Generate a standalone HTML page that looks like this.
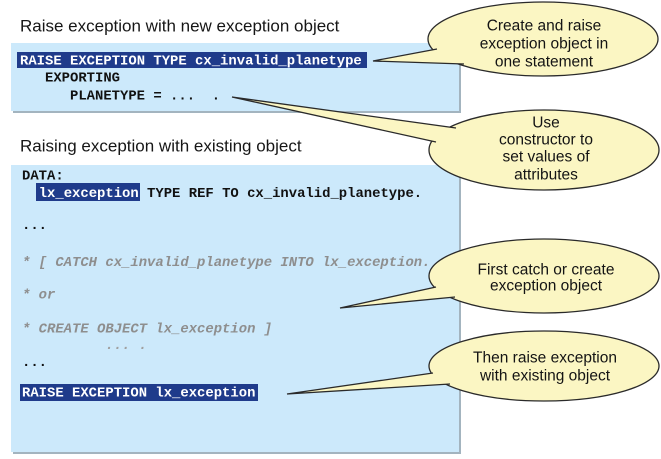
<!DOCTYPE html>
<html>
<head>
<meta charset="utf-8">
<style>
  html, body { margin: 0; padding: 0; background: #ffffff; }
  svg { display: block; }
  .title { font-family: "Liberation Sans", Arial, sans-serif; font-size: 17px; fill: #161616; }
  .code { font-family: "Liberation Mono", "Courier New", monospace; font-size: 13.9px; font-weight: bold; fill: #111111; white-space: pre; }
  .hl { fill: #ffffff; }
  .cmt { font-family: "Liberation Mono", "Courier New", monospace; font-size: 13.9px; font-weight: bold; font-style: italic; fill: #8e8e8e; white-space: pre; }
  .call { font-family: "Liberation Sans", Arial, sans-serif; font-size: 15.5px; fill: #141414; text-anchor: middle; }
</style>
</head>
<body>
<svg width="661" height="459" viewBox="0 0 661 459" xmlns="http://www.w3.org/2000/svg">
  <rect x="0" y="0" width="661" height="459" fill="#ffffff"/>

  <!-- Titles -->
  <text class="title" x="20" y="31.5">Raise exception with new exception object</text>
  <text class="title" x="20" y="151.5">Raising exception with existing object</text>

  <!-- Box 1 -->
  <rect x="13" y="45" width="448" height="68" fill="#a3b4bf"/>
  <rect x="11" y="43" width="448" height="68" fill="#cce9fb"/>
  <rect x="17" y="52" width="350" height="16" fill="#1f3b8b"/>
  <text class="code hl" x="20" y="64.5">RAISE EXCEPTION TYPE cx_invalid_planetype</text>
  <text class="code" x="45" y="81.5">EXPORTING</text>
  <text class="code" x="70" y="99.5">PLANETYPE = ...  .</text>

  <!-- Box 2 -->
  <rect x="13" y="167" width="448" height="287" fill="#a3b4bf"/>
  <rect x="11" y="165" width="448" height="287" fill="#cce9fb"/>
  <text class="code" x="22" y="179.5">DATA:</text>
  <rect x="36" y="183" width="104" height="18" fill="#1f3b8b"/>
  <text class="code" x="38.7" y="197"><tspan class="hl">lx_exception</tspan> TYPE REF TO cx_invalid_planetype.</text>
  <text class="code" x="22" y="229">...</text>
  <text class="cmt" x="22" y="266">* [ CATCH cx_invalid_planetype INTO lx_exception.</text>
  <text class="cmt" x="22" y="298.5">* or</text>
  <text class="cmt" x="22" y="332.5">* CREATE OBJECT lx_exception ]</text>
  <text class="cmt" x="22" y="349" style="fill:#a0a0a0">          ... .</text>
  <text class="code" x="22" y="366">...</text>
  <rect x="20" y="384" width="238" height="17" fill="#1f3b8b"/>
  <text class="code hl" x="22" y="396.5">RAISE EXCEPTION lx_exception</text>

  <!-- Callout 1 -->
  <ellipse cx="543" cy="39" rx="115" ry="37" fill="#fbf6c3" stroke="#2a2a2a" stroke-width="1.3"/>
  <path d="M437,49 L373,61 L464,64" fill="#fbf6c3" stroke="#2a2a2a" stroke-width="1.3" stroke-linejoin="miter"/>
  <text class="call" x="544" y="30.5">Create and raise</text>
  <text class="call" x="544" y="48.5">exception object in</text>
  <text class="call" x="544" y="66.5">one statement</text>

  <!-- Callout 2 -->
  <ellipse cx="544" cy="150" rx="115" ry="40" fill="#fbf6c3" stroke="#2a2a2a" stroke-width="1.3"/>
  <path d="M456,128 L232,97 L436,142" fill="#fbf6c3" stroke="#2a2a2a" stroke-width="1.3"/>
  <text class="call" x="546" y="127.5">Use</text>
  <text class="call" x="546" y="144.5">constructor to</text>
  <text class="call" x="546" y="161.5">set values of</text>
  <text class="call" x="546" y="179.5">attributes</text>

  <!-- Callout 3 -->
  <ellipse cx="544" cy="276" rx="115" ry="37" fill="#fbf6c3" stroke="#2a2a2a" stroke-width="1.3"/>
  <path d="M436,287 L340,308 L455,297" fill="#fbf6c3" stroke="#2a2a2a" stroke-width="1.3"/>
  <text class="call" x="546" y="274.5">First catch or create</text>
  <text class="call" x="546" y="290.5">exception object</text>

  <!-- Callout 4 -->
  <ellipse cx="544" cy="366" rx="115" ry="35" fill="#fbf6c3" stroke="#2a2a2a" stroke-width="1.3"/>
  <path d="M433,373 L287,394 L450,384" fill="#fbf6c3" stroke="#2a2a2a" stroke-width="1.3"/>
  <text class="call" x="545" y="362.5">Then raise exception</text>
  <text class="call" x="545" y="380.5">with existing object</text>
</svg>
</body>
</html>
